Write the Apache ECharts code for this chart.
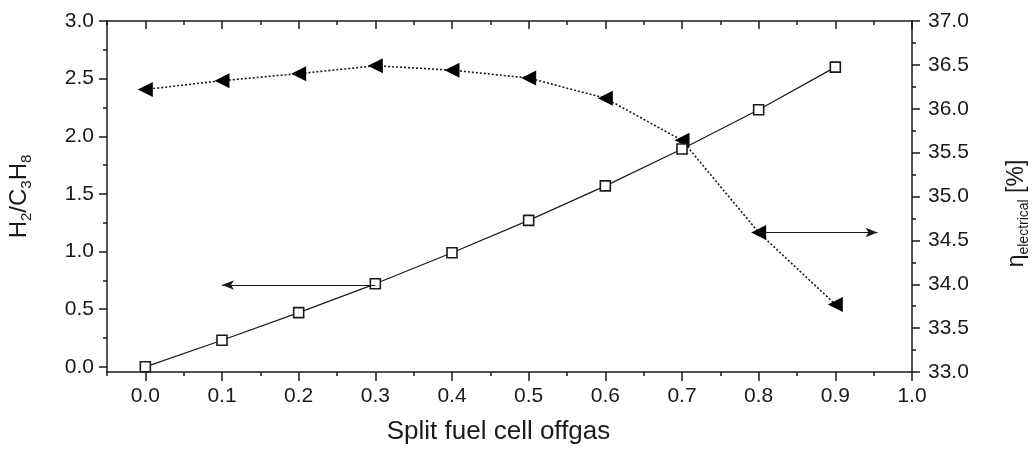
<!DOCTYPE html>
<html>
<head>
<meta charset="utf-8">
<script src="https://cdn.jsdelivr.net/npm/echarts@6/dist/echarts.min.js"></script>
<style>html,body{margin:0;padding:0;background:#fff}#c{width:1035px;height:452px}</style>
</head>
<body>
<div id="c"></div>
<script>
// ---- data ----
const splitFraction = [0.0, 0.1, 0.2, 0.3, 0.4, 0.5, 0.6, 0.7, 0.8, 0.9];
const h2c3h8 = [0.00, 0.23, 0.47, 0.72, 0.99, 1.27, 1.57, 1.89, 2.23, 2.60];
const etaElectrical = [36.22, 36.32, 36.40, 36.49, 36.44, 36.35, 36.12, 35.64, 34.59, 33.77];
const xTicks = [0.0, 0.1, 0.2, 0.3, 0.4, 0.5, 0.6, 0.7, 0.8, 0.9, 1.0];
const xMinorTicks = [-0.05, 0.05, 0.15, 0.25, 0.35, 0.45, 0.55, 0.65, 0.75, 0.85, 0.95];
const leftTicks = [0.0, 0.5, 1.0, 1.5, 2.0, 2.5, 3.0];
const leftMinorTicks = [0.25, 0.75, 1.25, 1.75, 2.25, 2.75];
const rightTicks = [33.0, 33.5, 34.0, 34.5, 35.0, 35.5, 36.0, 36.5, 37.0];
const rightMinorTicks = [33.25, 33.75, 34.25, 34.75, 35.25, 35.75, 36.25, 36.75];
const leftArrow = [[0.3, 0.71], [0.1, 0.71]];
const rightArrow = [[0.8, 34.59], [0.955, 34.59]];

const FONT = '"Liberation Sans", Arial, sans-serif';
const INK = '#1a1a1a';
const X_MIN = -0.05, X_MAX = 1.0, L_MIN = -0.045, L_MAX = 3.0, R_MIN = 33, R_MAX = 37;
const gridRect = {left: 107, right: 123, top: 21, bottom: 80, containLabel: false, outerBoundsMode: 'none'};
const lineStyle = {color: INK, width: 1.5};
const fmt = v => Number(v).toFixed(1);
const labelStyle = {color: INK, fontSize: 21, fontFamily: FONT, formatter: fmt};

function minorAxis(extra) {
  return Object.assign({
    type: 'value', axisLine: {show: false, onZero: false}, splitLine: {show: false},
    axisLabel: {show: false}, silent: true
  }, extra);
}

const option = {
  animation: false,
  backgroundColor: '#fff',
  grid: [Object.assign({}, gridRect), Object.assign({}, gridRect)],
  xAxis: [
    {
      type: 'value', gridIndex: 0, position: 'bottom', min: X_MIN, max: X_MAX,
      axisLine: {show: true, onZero: false, lineStyle},
      axisTick: {show: true, inside: false, length: 9, lineStyle, customValues: xTicks},
      axisLabel: Object.assign({margin: 14, customValues: xTicks}, labelStyle),
      splitLine: {show: false},
      name: 'Split fuel cell offgas', nameLocation: 'middle', nameGap: 47,
      nameTextStyle: {color: INK, fontSize: 26, fontFamily: FONT, padding: [0, 22, 0, 0]}
    },
    {
      type: 'value', gridIndex: 0, position: 'top', min: X_MIN, max: X_MAX,
      axisLine: {show: true, onZero: false, lineStyle},
      axisTick: {show: true, inside: true, length: 8, lineStyle, customValues: xTicks},
      axisLabel: {show: false}, splitLine: {show: false}
    },
    minorAxis({gridIndex: 1, position: 'bottom', min: X_MIN, max: X_MAX,
      axisTick: {show: true, inside: false, length: 4, lineStyle, customValues: xMinorTicks}}),
    minorAxis({gridIndex: 1, position: 'top', min: X_MIN, max: X_MAX,
      axisTick: {show: true, inside: true, length: 4, lineStyle, customValues: xMinorTicks}})
  ],
  yAxis: [
    {
      type: 'value', gridIndex: 0, position: 'left', min: L_MIN, max: L_MAX,
      axisLine: {show: true, onZero: false, lineStyle},
      axisTick: {show: true, inside: false, length: 8, lineStyle, customValues: leftTicks},
      axisLabel: Object.assign({margin: 13, customValues: leftTicks}, labelStyle),
      splitLine: {show: false},
      name: '{n|H}{s|2}{n|/C}{s|3}{n|H}{s|8}', nameLocation: 'middle', nameGap: 73, nameRotate: 90,
      nameTextStyle: {
        color: INK, fontFamily: FONT,
        rich: {
          n: {fontSize: 24, fontFamily: FONT, color: INK, lineHeight: 30},
          s: {fontSize: 15, fontFamily: FONT, color: INK, lineHeight: 15, verticalAlign: 'bottom'}
        }
      }
    },
    {
      type: 'value', gridIndex: 0, position: 'right', min: R_MIN, max: R_MAX,
      axisLine: {show: true, onZero: false, lineStyle},
      axisTick: {show: true, inside: false, length: 8, lineStyle, customValues: rightTicks},
      axisLabel: Object.assign({margin: 16, customValues: rightTicks}, labelStyle),
      splitLine: {show: false},
      name: '{n|η}{s|electrical}{n| [%]}', nameLocation: 'middle', nameGap: 91, nameRotate: 90,
      nameTextStyle: {
        color: INK, fontFamily: FONT, padding: [0, 34, 0, 0],
        rich: {
          n: {fontSize: 23, fontFamily: FONT, color: INK, lineHeight: 28},
          s: {fontSize: 14, fontFamily: FONT, color: INK, lineHeight: 14, verticalAlign: 'bottom'}
        }
      }
    },
    minorAxis({gridIndex: 1, position: 'left', min: L_MIN, max: L_MAX,
      axisTick: {show: true, inside: false, length: 4, lineStyle, customValues: leftMinorTicks}}),
    minorAxis({gridIndex: 1, position: 'right', min: R_MIN, max: R_MAX,
      axisTick: {show: true, inside: false, length: 4, lineStyle, customValues: rightMinorTicks}})
  ],
  series: [
    {
      type: 'line', xAxisIndex: 0, yAxisIndex: 0, z: 3,
      data: splitFraction.map((x, i) => [x, h2c3h8[i]]),
      symbol: 'rect', symbolSize: 10,
      itemStyle: {color: '#fff', borderColor: INK, borderWidth: 1.6},
      lineStyle: {color: INK, width: 1.2, type: 'solid'},
      markLine: {
        silent: true, symbol: ['none', 'arrow'], symbolSize: [7, 12],
        label: {show: false},
        lineStyle: {color: INK, width: 1, type: 'solid'},
        data: [[{coord: leftArrow[0]}, {coord: leftArrow[1]}]]
      }
    },
    {
      type: 'line', xAxisIndex: 0, yAxisIndex: 1, z: 2,
      data: splitFraction.map((x, i) => [x, etaElectrical[i]]),
      symbol: 'triangle', symbolSize: [15, 15], symbolRotate: 90,
      itemStyle: {color: '#000'},
      lineStyle: {color: INK, width: 1.6, type: [2, 2]},
      markLine: {
        silent: true, symbol: ['none', 'arrow'], symbolSize: [7, 12],
        label: {show: false},
        lineStyle: {color: INK, width: 1, type: 'solid'},
        data: [[{coord: rightArrow[0]}, {coord: rightArrow[1]}]]
      }
    }
  ]
};

const chart = echarts.init(document.getElementById('c'), null, {renderer: 'canvas'});
chart.setOption(option);
</script>
</body>
</html>
